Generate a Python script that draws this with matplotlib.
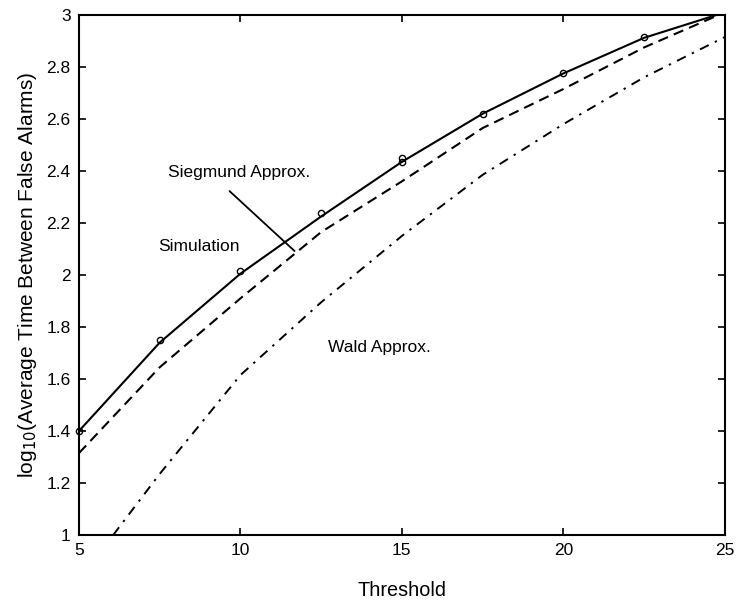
import numpy as np
import matplotlib
matplotlib.use("Agg")
import matplotlib.pyplot as plt

plt.rcParams['font.family'] = ['Liberation Sans', 'DejaVu Sans']

# simulated points (circles)
sim_x = [5, 7.5, 10, 12.5, 15, 15, 17.5, 20, 22.5]
sim_y = [1.40, 1.75, 2.015, 2.24, 2.435, 2.45, 2.62, 2.778, 2.914]

# solid curve through the simulation
solid_x = [5, 7.5, 10, 12.5, 15, 17.5, 20, 22.5, 25]
solid_y = [1.40, 1.74, 2.005, 2.225, 2.435, 2.62, 2.775, 2.912, 3.01]

# Siegmund approximation (dashed)
sieg_x = [5, 7.5, 10, 12.5, 15, 17.5, 20, 22.5, 25]
sieg_y = [1.315, 1.645, 1.91, 2.165, 2.36, 2.565, 2.715, 2.875, 3.01]

# Wald approximation (dash-dot)
wald_x = [6.06, 7.5, 10, 12.5, 15, 17.5, 20, 22.5, 25]
wald_y = [1.0, 1.235, 1.615, 1.895, 2.15, 2.385, 2.58, 2.76, 2.915]

xticks = [5, 10, 15, 20, 25]
yticks = [1, 1.2, 1.4, 1.6, 1.8, 2, 2.2, 2.4, 2.6, 2.8, 3]
ytick_labels = ['1', '1.2', '1.4', '1.6', '1.8', '2', '2.2', '2.4', '2.6', '2.8', '3']

fig = plt.figure(figsize=(7.38, 6.04), dpi=100)
ax = fig.add_axes([0.107, 0.1142, 0.875, 0.861])

ax.plot(solid_x, solid_y, color='black', lw=1.5, solid_capstyle='butt')
ax.plot(sieg_x, sieg_y, color='black', lw=1.5, linestyle=(0, (5, 3)))
ax.plot(wald_x, wald_y, color='black', lw=1.4, linestyle=(0, (5, 3.5, 1.2, 3.5)))
ax.plot(sim_x, sim_y, linestyle='none', marker='o', ms=4.5, mfc='none',
        mec='black', mew=1.0, clip_on=False)

ax.set_xlim(5, 25)
ax.set_ylim(1, 3)
ax.set_xticks(xticks)
ax.set_yticks(yticks)
ax.set_yticklabels(ytick_labels)
ax.tick_params(direction='in', length=5, width=1.2, top=True, right=True,
               labelsize=12.5, pad=6)
for s in ax.spines.values():
    s.set_linewidth(1.5)

ax.set_xlabel('Threshold', fontsize=14.3, labelpad=16)
ax.set_ylabel(r'log$_{10}$(Average Time Between False Alarms)', fontsize=15, labelpad=5)

# annotations
ax.text(7.77, 2.395, 'Siegmund Approx.', fontsize=12.5, va='center', ha='left')
ax.annotate('', xy=(11.74, 2.085), xytext=(9.6, 2.33),
            arrowprops=dict(arrowstyle='-', color='black', lw=1.3))
ax.text(7.45, 2.11, 'Simulation', fontsize=12.5, va='center', ha='left')
ax.text(12.7, 1.72, 'Wald Approx.', fontsize=12.5, va='center', ha='left')

fig.savefig('out.png', dpi=100)
